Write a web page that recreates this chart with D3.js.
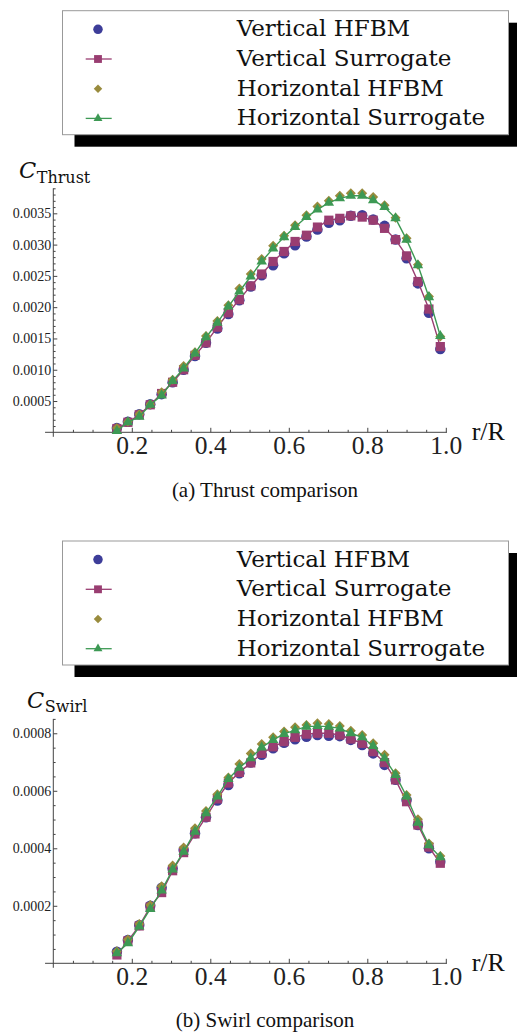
<!DOCTYPE html>
<html>
<head>
<meta charset="utf-8">
<script src="https://cdn.jsdelivr.net/npm/d3@7"></script>
<style>
body { margin: 0; background: #fff; }
</style>
</head>
<body>
<script>
// r/R stations
let rR = [0.162, 0.190, 0.219, 0.247, 0.276, 0.304, 0.332, 0.361, 0.389, 0.418,
          0.446, 0.474, 0.503, 0.531, 0.560, 0.588, 0.616, 0.645, 0.673, 0.702,
          0.730, 0.758, 0.787, 0.815, 0.844, 0.872, 0.900, 0.929, 0.957, 0.986];

// thrust coefficient
let thrustVH = [0.00007, 0.00017, 0.00029, 0.00045, 0.00061, 0.00080, 0.00100, 0.00122, 0.00143, 0.00166,
                0.00189, 0.00211, 0.00233, 0.00251, 0.00267, 0.00286, 0.00299, 0.00313, 0.00324, 0.00335,
                0.00339, 0.00346, 0.00347, 0.00340, 0.00330, 0.00308, 0.00278, 0.00238, 0.00191, 0.00133];
let thrustVS = [0.00006, 0.00016, 0.00028, 0.00044, 0.00062, 0.00080, 0.00100, 0.00123, 0.00143, 0.00168,
                0.00191, 0.00212, 0.00234, 0.00253, 0.00273, 0.00289, 0.00305, 0.00315, 0.00328, 0.00339,
                0.00342, 0.00346, 0.00344, 0.00339, 0.00326, 0.00308, 0.00282, 0.00241, 0.00197, 0.00137];
let thrustHH = [0.00007, 0.00017, 0.00029, 0.00045, 0.00064, 0.00084, 0.00106, 0.00128, 0.00154, 0.00178,
                0.00203, 0.00230, 0.00253, 0.00277, 0.00298, 0.00314, 0.00331, 0.00347, 0.00361, 0.00370,
                0.00378, 0.00382, 0.00382, 0.00376, 0.00363, 0.00343, 0.00310, 0.00268, 0.00217, 0.00153];
let thrustHS = [0.00002, 0.00016, 0.00025, 0.00044, 0.00059, 0.00082, 0.00102, 0.00126, 0.00152, 0.00175,
                0.00201, 0.00225, 0.00249, 0.00273, 0.00294, 0.00312, 0.00328, 0.00344, 0.00356, 0.00367,
                0.00374, 0.00378, 0.00378, 0.00371, 0.00360, 0.00342, 0.00308, 0.00267, 0.00216, 0.00154];

// swirl coefficient
let swirlVH = [0.000040, 0.000081, 0.000133, 0.000200, 0.000263, 0.000330, 0.000394, 0.000452, 0.000508, 0.000566,
               0.000620, 0.000661, 0.000698, 0.000725, 0.000748, 0.000767, 0.000779, 0.000788, 0.000794, 0.000791,
               0.000790, 0.000777, 0.000759, 0.000730, 0.000690, 0.000638, 0.000568, 0.000481, 0.000400, 0.000353];
let swirlVS = [0.000029, 0.000078, 0.000130, 0.000196, 0.000246, 0.000322, 0.000385, 0.000450, 0.000508, 0.000572,
               0.000627, 0.000664, 0.000697, 0.000730, 0.000753, 0.000771, 0.000786, 0.000797, 0.000800, 0.000800,
               0.000794, 0.000780, 0.000765, 0.000736, 0.000698, 0.000638, 0.000562, 0.000481, 0.000404, 0.000348];
let swirlHH = [0.000042, 0.000083, 0.000137, 0.000203, 0.000268, 0.000340, 0.000403, 0.000470, 0.000530, 0.000588,
               0.000646, 0.000693, 0.000730, 0.000763, 0.000786, 0.000806, 0.000821, 0.000829, 0.000835, 0.000832,
               0.000825, 0.000809, 0.000794, 0.000765, 0.000725, 0.000661, 0.000585, 0.000501, 0.000417, 0.000373];
let swirlHS = [0.000035, 0.000070, 0.000128, 0.000189, 0.000253, 0.000326, 0.000388, 0.000458, 0.000522, 0.000580,
               0.000641, 0.000680, 0.000713, 0.000751, 0.000777, 0.000798, 0.000811, 0.000823, 0.000825, 0.000823,
               0.000817, 0.000800, 0.000786, 0.000756, 0.000713, 0.000655, 0.000580, 0.000489, 0.000411, 0.000369];

let seriesNames = ['Vertical HFBM', 'Vertical Surrogate', 'Horizontal HFBM', 'Horizontal Surrogate'];
let xTicks = [0.2, 0.4, 0.6, 0.8, 1.0];
let thrustTicks = [0.0005, 0.0010, 0.0015, 0.0020, 0.0025, 0.0030, 0.0035];
let swirlTicks = [0.0002, 0.0004, 0.0006, 0.0008];
let captions = ['(a) Thrust comparison', '(b) Swirl comparison'];

let width = 517, height = 1032;
let colors = ['#3d3d99', '#993d71', '#998b3d', '#3d9954'];
let times = '"Liberation Serif", "Times New Roman", serif';
let deja = '"DejaVu Serif", serif';

let svg = d3.select('body')
    .append('svg')
    .attr('width', width)
    .attr('height', height);

// marker shapes: circle, square, diamond, triangle
function markerPath(k, s) {
    if (k == 0) return d3.symbol(d3.symbolCircle, Math.PI * s * s / 4)();
    if (k == 1) return d3.symbol(d3.symbolSquare, s * s * 0.85)();
    if (k == 2) return d3.symbol(d3.symbolSquare, s * s * 0.5)();
    return d3.symbol(d3.symbolTriangle, Math.sqrt(3) / 4 * s * s * 1.1)();
}
function markerRot(k) { return k == 2 ? ' rotate(45)' : ''; }

function drawPanel(p) {
    let g = svg.append('g');

    // legend with drop shadow
    let lx = 62.5, lw = 446, lh = 124, ly = p.legendTop;
    g.append('rect').attr('x', lx + 12).attr('y', ly + 12).attr('width', lw).attr('height', lh).attr('fill', '#000');
    g.append('rect').attr('x', lx).attr('y', ly).attr('width', lw).attr('height', lh)
        .attr('fill', '#fff').attr('stroke', '#999').attr('stroke-width', 1);
    seriesNames.forEach(function(name, k) {
        let cy = ly + 18.6 + k * 29.7;
        if (k == 1 || k == 3) {
            g.append('line').attr('x1', 85.7).attr('x2', 111.7).attr('y1', cy).attr('y2', cy)
                .attr('stroke', colors[k]).attr('stroke-width', 1.3);
        }
        g.append('path')
            .attr('d', markerPath(k, k == 0 ? 9.5 : 8.5))
            .attr('transform', 'translate(98,' + cy + ')' + markerRot(k))
            .attr('fill', colors[k]);
        g.append('text')
            .attr('x', 236.7).attr('y', cy + 7)
            .attr('font-family', deja).attr('font-size', '23px')
            .attr('fill', '#111')
            .text(name);
    });

    // scales
    let x = d3.scaleLinear().domain([0, 1]).range([53.3, 445.8]);
    let y = d3.scaleLinear().domain([0, p.yMax]).range([p.y0, p.yTopPx]);

    // axes lines
    g.append('line').attr('x1', x(-0.021)).attr('x2', x(1.003)).attr('y1', y(0)).attr('y2', y(0))
        .attr('stroke', '#444').attr('stroke-width', 1);
    g.append('line').attr('x1', x(0)).attr('x2', x(0)).attr('y1', y(p.yMax)).attr('y2', y(0) + 4.5)
        .attr('stroke', '#444').attr('stroke-width', 1);

    // x ticks (pointing up)
    let xMinor = d3.range(1, 20).map(function(i) { return i * 0.05; })
        .filter(function(v) { return Math.abs(v * 5 - Math.round(v * 5)) > 1e-6; });
    let axX = g.append('g').attr('transform', 'translate(0,' + y(0) + ')')
        .call(d3.axisBottom(x).tickValues(xTicks).tickSize(-4.5).tickPadding(4).tickFormat(d3.format('.1f')));
    let axXm = g.append('g').attr('transform', 'translate(0,' + y(0) + ')')
        .call(d3.axisBottom(x).tickValues(xMinor).tickSize(-2.5).tickFormat(''));

    // y ticks (pointing right)
    let axY = g.append('g').attr('transform', 'translate(' + x(0) + ',0)')
        .call(d3.axisLeft(y).tickValues(p.yTicks).tickSize(-4).tickPadding(2).tickFormat(d3.format('.4f')));
    let axYm = g.append('g').attr('transform', 'translate(' + x(0) + ',0)')
        .call(d3.axisLeft(y).tickValues(p.yMinor).tickSize(-2.3).tickFormat(''));

    [axX, axXm, axY, axYm].forEach(function(a) {
        a.select('.domain').remove();
        a.selectAll('line').attr('stroke', '#444');
    });
    axX.selectAll('text').attr('font-family', times).attr('font-size', '25.5px').attr('fill', '#222');
    axY.selectAll('text').attr('font-family', times).attr('font-size', '14px').attr('fill', '#222');

    // series
    let data = p.series;
    data.forEach(function(vals, k) {
        let pts = rR.map(function(r, i) { return [r, vals[i]]; });
        if (k == 1 || k == 3) {
            g.append('path')
                .datum(pts)
                .attr('fill', 'none')
                .attr('stroke', colors[k])
                .attr('stroke-width', 1.4)
                .attr('d', d3.line().x(function(d) { return x(d[0]); }).y(function(d) { return y(d[1]); }));
        }
        g.selectAll('path.m' + k)
            .data(pts)
            .enter()
            .append('path')
            .attr('class', 'm' + k)
            .attr('d', markerPath(k, k == 0 ? 10.5 : 10))
            .attr('transform', function(d) { return 'translate(' + x(d[0]) + ',' + y(d[1]) + ')' + markerRot(k); })
            .attr('fill', colors[k]);
    });

    // axis labels
    let lab = g.append('text').attr('x', p.cx).attr('y', p.cy).attr('font-family', deja).attr('fill', '#111');
    lab.append('tspan').attr('font-style', 'italic').attr('font-size', '22.5px').text('C');
    lab.append('tspan').attr('font-size', '16px').attr('dy', 4.7).attr('dx', 0.5).text(p.sub);

    g.append('text').attr('x', 471.7).attr('y', y(0) + 8)
        .attr('font-family', times).attr('font-size', '26px').attr('fill', '#111')
        .text('r/R');

    g.append('text').attr('x', 265).attr('y', p.capY)
        .attr('text-anchor', 'middle')
        .attr('font-family', times).attr('font-size', '21px').attr('fill', '#111')
        .text(p.caption);
}

let thrustMinor = d3.range(1, 40).map(function(i) { return i * 0.0001; })
    .filter(function(v) { return Math.abs(v / 0.0005 - Math.round(v / 0.0005)) > 1e-6; });
let swirlMinor = d3.range(1, 18).map(function(i) { return i * 0.00005; })
    .filter(function(v) { return Math.abs(v / 0.0002 - Math.round(v / 0.0002)) > 1e-6; });

drawPanel({
    legendTop: 10.7, y0: 432.3, yTopPx: 188.3, yMax: 0.0039,
    yTicks: thrustTicks, yMinor: thrustMinor,
    series: [thrustVH, thrustVS, thrustHH, thrustHS],
    cx: 19, cy: 178, sub: 'Thrust', caption: captions[0], capY: 497
});
drawPanel({
    legendTop: 541, y0: 963.3, yTopPx: 718.9, yMax: 0.00085,
    yTicks: swirlTicks, yMinor: swirlMinor,
    series: [swirlVH, swirlVS, swirlHH, swirlHS],
    cx: 27, cy: 707.5, sub: 'Swirl', caption: captions[1], capY: 1027
});
</script>
</body>
</html>
